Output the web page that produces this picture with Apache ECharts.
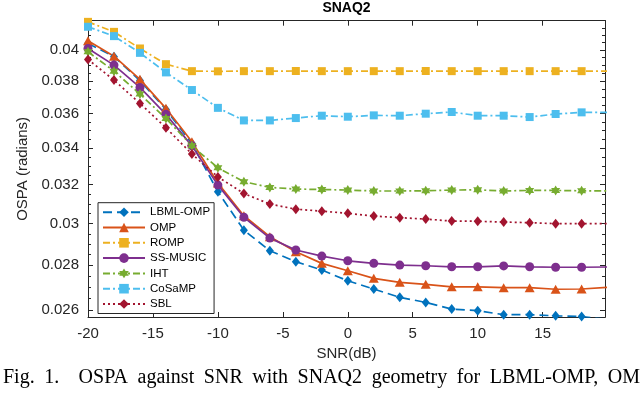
<!DOCTYPE html>
<html><head><meta charset="utf-8">
<script src="https://cdn.jsdelivr.net/npm/echarts@6/dist/echarts.min.js"></script>
<style>html,body{margin:0;padding:0;background:#fff}#c{width:640px;height:397px}</style>
</head><body><div id="c"></div>
<script>
const snr = [-20,-18,-16,-14,-12,-10,-8,-6,-4,-2,0,2,4,6,8,10,12,14,16,18,20];
const lbmlOmp = [0.04045,0.03957,0.03803,0.03625,0.03426,0.03163,0.02968,0.02868,0.02817,0.02778,0.02729,0.02692,0.02655,0.02633,0.02604,0.02597,0.02580,0.02580,0.02575,0.02572,0.02560];
const omp = [0.04062,0.03960,0.03811,0.03632,0.03436,0.03209,0.03040,0.02936,0.02864,0.02809,0.02775,0.02740,0.02722,0.02713,0.02702,0.02702,0.02698,0.02698,0.02691,0.02692,0.02700];
const romp = [0.04192,0.04123,0.04011,0.03908,0.03863,0.03862,0.03863,0.03863,0.03864,0.03863,0.03863,0.03863,0.03863,0.03864,0.03863,0.03863,0.03863,0.03863,0.03863,0.03863,0.03863];
const ssMusic = [0.04011,0.03902,0.03760,0.03596,0.03413,0.03198,0.03032,0.02929,0.02872,0.02843,0.02821,0.02809,0.02801,0.02798,0.02793,0.02793,0.02797,0.02793,0.02791,0.02791,0.02792];
const iht = [0.03989,0.03863,0.03719,0.03572,0.03413,0.03291,0.03216,0.03186,0.03177,0.03175,0.03172,0.03167,0.03167,0.03168,0.03172,0.03173,0.03167,0.03170,0.03170,0.03168,0.03168];
const cosamp = [0.04158,0.04094,0.03982,0.03855,0.03744,0.03635,0.03560,0.03560,0.03574,0.03588,0.03582,0.03590,0.03588,0.03600,0.03610,0.03588,0.03588,0.03580,0.03598,0.03608,0.03608];
const sbl = [0.03939,0.03806,0.03662,0.03517,0.03367,0.03242,0.03154,0.03099,0.03073,0.03063,0.03052,0.03038,0.03030,0.03023,0.03013,0.03012,0.03008,0.03005,0.03000,0.03000,0.03000];

const xTicks = [-20,-15,-10,-5,0,5,10,15];
const yTicks = [0.026,0.028,0.030,0.032,0.034,0.036,0.038,0.040];
const yMinorTicks = [0.0260,0.0265,0.0270,0.0275,0.0280,0.0285,0.0290,0.0295,0.0300,0.0305,0.0310,0.0315,0.0320,0.0325,0.0330,0.0335,0.0340,0.0345,0.0350,0.0355,0.0360,0.0365,0.0370,0.0375,0.0380,0.0385,0.0390,0.0395,0.0400,0.0405,0.0410,0.0415];
const seriesNames = ['LBML-OMP','OMP','ROMP','SS-MUSIC','IHT','CoSaMP','SBL'];
const titleText = 'SNAQ2';
const xName = 'SNR(dB)';
const yName = 'OSPA (radians)';
const captionWords = ['Fig.', '1.', 'OSPA', 'against', 'SNR', 'with', 'SNAQ2', 'geometry', 'for', 'LBML-OMP,', 'OMP,'];

const hexagram = 'path://M100,0 L128.87,50 L186.6,50 L157.7,100 L186.6,150 L128.87,150 L100,200 L71.13,150 L13.4,150 L42.3,100 L13.4,50 L71.13,50 Z';

const axisColor = '#262626';
const XMIN = -20, XMAX = 19.8, YMIN = 0.0257, YMAX = 0.0420;

// justified caption layout (text stays real text, one element per word)
const capFont = '20px "Liberation Serif"';
const mctx = document.createElement('canvas').getContext('2d');
mctx.font = capFont;
const wW = captionWords.map(w => mctx.measureText(w).width);
const omW = mctx.measureText('OM').width;
const capLeft = 3, capRight = 640;
const gapUnits = captionWords.slice(0, -1).map((w, i) => (i === 1 ? 2 : 1));
const sumUnits = gapUnits.reduce((a, b) => a + b, 0);
const wordsBeforeLast = wW.slice(0, -1).reduce((a, b) => a + b, 0);
const unitGap = (capRight - omW - capLeft - wordsBeforeLast) / sumUnits;
let cx = capLeft;
const captionGraphics = captionWords.map((w, i) => {
  const el = { type: 'text', x: cx, y: 378, silent: true,
    style: { text: w, font: capFont, fill: '#000', textAlign: 'left', align: 'left', textVerticalAlign: 'middle', verticalAlign: 'middle' } };
  cx += wW[i] + (i < gapUnits.length ? gapUnits[i] * unitGap : 0);
  return el;
});

function mk(name, arr, color, type, symbol, size) {
  return {
    name, type: 'line', data: snr.map((x, i) => [x, arr[i]]),
    xAxisIndex: 0, yAxisIndex: 0,
    lineStyle: { color, width: 1.7, type },
    itemStyle: { color, borderWidth: 0 },
    symbol, symbolSize: size, showSymbol: true,
    emphasis: { disabled: true }, silent: true, clip: true
  };
}

const chart = echarts.init(document.getElementById('c'), null, { renderer: 'canvas' });
const yBase = (pos) => ({
  type: 'log', min: YMIN, max: YMAX, position: pos, gridIndex: 0,
  axisLine: { show: true, onZero: false, lineStyle: { color: axisColor, width: 1 } },
  splitLine: { show: false }, minorTick: { show: false }
});
chart.setOption({
  animation: false,
  backgroundColor: '#fff',
  grid: { left: 88, right: 35, top: 20.7, bottom: 80, containLabel: false },
  xAxis: [
    { type: 'value', min: XMIN, max: XMAX, position: 'bottom',
      name: xName, nameLocation: 'middle', nameGap: 28,
      nameTextStyle: { fontSize: 15, fontFamily: 'Liberation Sans', color: axisColor },
      axisLine: { show: true, onZero: false, lineStyle: { color: axisColor, width: 1 } },
      axisTick: { show: true, inside: true, length: 5, customValues: xTicks, lineStyle: { color: axisColor } },
      axisLabel: { show: true, customValues: xTicks, margin: 9, fontSize: 15, fontFamily: 'Liberation Sans', color: axisColor },
      splitLine: { show: false } },
    { type: 'value', min: XMIN, max: XMAX, position: 'top',
      axisLine: { show: true, onZero: false, lineStyle: { color: axisColor, width: 1 } },
      axisTick: { show: true, inside: true, length: 5, customValues: xTicks, lineStyle: { color: axisColor } },
      axisLabel: { show: false }, splitLine: { show: false } }
  ],
  yAxis: [
    Object.assign(yBase('left'), {
      name: yName, nameLocation: 'middle', nameGap: 53, nameRotate: 90,
      nameTextStyle: { fontSize: 15, fontFamily: 'Liberation Sans', color: axisColor },
      axisTick: { show: true, inside: true, length: 5, customValues: yTicks, lineStyle: { color: axisColor } },
      axisLabel: { show: true, customValues: yTicks, margin: 9, fontSize: 15, fontFamily: 'Liberation Sans', color: axisColor,
        formatter: v => String(Math.round(v * 1000) / 1000) } }),
    Object.assign(yBase('left'), {
      axisTick: { show: true, inside: true, length: 3, customValues: yMinorTicks, lineStyle: { color: axisColor } },
      axisLabel: { show: false } }),
    Object.assign(yBase('right'), {
      axisTick: { show: true, inside: true, length: 5, customValues: yTicks, lineStyle: { color: axisColor } },
      axisLabel: { show: false } }),
    Object.assign(yBase('right'), {
      axisTick: { show: true, inside: true, length: 3, customValues: yMinorTicks, lineStyle: { color: axisColor } },
      axisLabel: { show: false } })
  ],
  legend: {
    data: seriesNames, orient: 'vertical', left: 98, top: 202.7,
    itemWidth: 42, itemHeight: 12, itemGap: 3.3,
    padding: [3.5, 4, 3.5, 4],
    backgroundColor: '#fff', borderColor: axisColor, borderWidth: 1, borderRadius: 0,
    textStyle: { fontSize: 11.5, fontFamily: 'Liberation Sans', color: '#000' },
    selectedMode: false
  },
  graphic: [
    { type: 'text', x: 346.5, y: 1, style: { text: titleText, font: 'bold 14px "Liberation Sans"', fill: '#000', textAlign: 'center', align: 'center', textVerticalAlign: 'top', verticalAlign: 'top' } }
  ].concat(captionGraphics),
  series: [
    mk(seriesNames[0], lbmlOmp, '#0072BD', [9, 5], 'diamond', [8, 10]),
    mk(seriesNames[1], omp, '#D95319', 'solid', 'triangle', [10, 9]),
    mk(seriesNames[2], romp, '#EDB120', [7, 3, 2, 3], 'rect', 8),
    mk(seriesNames[3], ssMusic, '#7E2F8E', 'solid', 'circle', 9),
    mk(seriesNames[4], iht, '#77AC30', [7, 3, 2, 3], hexagram, [9, 10]),
    mk(seriesNames[5], cosamp, '#4DBEEE', [7, 3, 2, 3], 'rect', 8),
    mk(seriesNames[6], sbl, '#A2142F', [2, 3], 'diamond', [8, 10])
  ]
});
</script></body></html>
